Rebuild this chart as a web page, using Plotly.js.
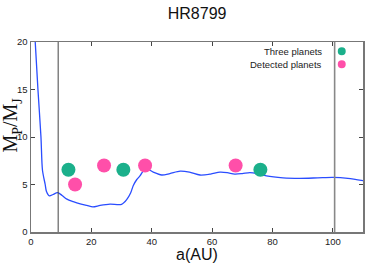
<!DOCTYPE html>
<html><head><meta charset="utf-8">
<script src="https://cdn.plot.ly/plotly-3.0.1.min.js"></script>
<style>html,body{margin:0;padding:0;background:#fff}#c{width:374px;height:263px}</style>
</head><body><div id="c"></div>
<script>
var curveA = [1.4, 2.3, 3.3, 3.8, 4.7, 5.1, 6.1, 7.3, 8.8, 10.3, 11.9, 14.0, 16.3, 18.5, 20.5, 22.9, 26.2, 30.0, 31.7, 33.0, 33.9, 35.0, 36.1, 38.0, 40.5, 43.3, 46.0, 49.4, 52.5, 56.0, 59.5, 62.6, 65.0, 67.5, 70.0, 72.5, 75.0, 78.0, 83.5, 89.0, 95.0, 100.0, 105.0, 110.0];
var curveM = [20.0, 15.0, 10.0, 6.5, 5.0, 4.3, 3.8, 3.95, 4.15, 3.85, 3.46, 3.2, 2.97, 2.8, 2.65, 2.8, 2.93, 2.9, 3.4, 4.1, 4.9, 5.5, 5.9, 6.7, 6.3, 6.0, 6.15, 6.4, 6.3, 6.0, 6.1, 6.3, 6.25, 6.1, 6.15, 6.25, 6.15, 5.9, 5.7, 5.65, 5.7, 5.75, 5.65, 5.4];
var threeA = [12.4, 30.6, 76.0];
var threeM = [6.55, 6.55, 6.55];
var detA = [14.6, 24.2, 37.8, 67.8];
var detM = [5.0, 7.0, 7.0, 7.0];
var vLines = [9.0, 100.6];
var legendNames = ["Three planets", "Detected planets"];
var yTitle = "M<sub>P</sub>/M<sub>J</sub>";
var green = "#1bb08b", pink = "#ff4fa9";

var traces = [
  {x: curveA, y: curveM, mode: "lines", line: {color: "#2a4dff", width: 1.3, shape: "spline", smoothing: 0.8}, hoverinfo: "skip", showlegend: false},
  {x: threeA, y: threeM, mode: "markers", marker: {color: green, size: 14}, name: legendNames[0], showlegend: false},
  {x: detA, y: detM, mode: "markers", marker: {color: pink, size: 14}, name: legendNames[1], showlegend: false}
];

var shapes = [
  {type: "line", xref: "x", yref: "paper", x0: vLines[0], x1: vLines[0], y0: 0, y1: 1, line: {color: "#444", width: 1}},
  {type: "line", xref: "x", yref: "paper", x0: vLines[1], x1: vLines[1], y0: 0, y1: 1, line: {color: "#888", width: 1.6}}
];
var legY = [0.951, 0.883], legColors = [green, pink];
var annotations = [];
for (var i = 0; i < 2; i++) {
  annotations.push({xref: "paper", yref: "paper", x: 0.883, y: legY[i], xanchor: "right", yanchor: "middle", text: legendNames[i], showarrow: false, font: {family: "Liberation Sans, Arial", size: 9.5, color: "#222"}});
  shapes.push({type: "circle", xref: "paper", yref: "paper", x0: 0.936 - 0.012, x1: 0.936 + 0.012, y0: legY[i] - 0.021, y1: legY[i] + 0.021, fillcolor: legColors[i], line: {width: 0}});
}
annotations.push({xref: "paper", yref: "paper", x: 0, xshift: -19, y: 0.56, xanchor: "center", yanchor: "middle", textangle: -90, text: yTitle, showarrow: false, font: {family: "Liberation Serif, Times New Roman", size: 20, color: "#111"}});

var layout = {
  width: 374, height: 263,
  margin: {l: 31, r: 11, t: 42, b: 31},
  paper_bgcolor: "#fff", plot_bgcolor: "#fff",
  title: {text: "HR8799", x: 0.527, xanchor: "center", y: 0.95, yanchor: "middle", font: {family: "Liberation Sans, Arial", size: 16, color: "#111"}},
  showlegend: false,
  xaxis: {range: [0, 110], dtick: 20, tick0: 0, ticks: "inside", ticklen: 4, tickcolor: "#444", mirror: "ticks", showline: true, linecolor: "#777", linewidth: 1.5, showgrid: false, zeroline: false,
    tickfont: {family: "Liberation Sans, Arial", size: 9.5, color: "#222"},
    title: {text: "a(AU)", standoff: 4, font: {family: "Liberation Sans, Arial", size: 16, color: "#111"}}},
  yaxis: {range: [0, 20], dtick: 5, tick0: 0, ticks: "inside", ticklen: 4, tickcolor: "#444", mirror: "ticks", showline: true, linecolor: "#777", linewidth: 1.5, showgrid: false, zeroline: false,
    tickfont: {family: "Liberation Sans, Arial", size: 9.5, color: "#222"}},
  shapes: shapes,
  annotations: annotations
};
Plotly.newPlot("c", traces, layout, {displayModeBar: false, staticPlot: true});
</script></body></html>
